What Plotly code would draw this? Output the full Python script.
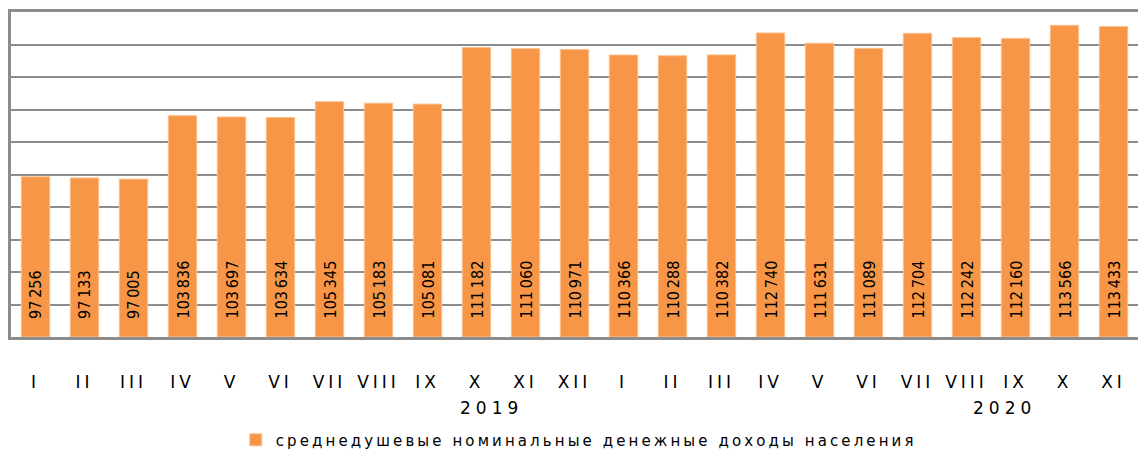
import plotly.graph_objects as go

months = ["I", "II", "III", "IV", "V", "VI", "VII", "VIII", "IX", "X", "XI", "XII",
          "I", "II", "III", "IV", "V", "VI", "VII", "VIII", "IX", "X", "XI"]
values = [97256, 97133, 97005, 103836, 103697, 103634, 105345, 105183, 105081,
          111182, 111060, 110971,
          110366, 110288, 110382, 112740, 111631, 111089, 112704, 112242, 112160,
          113566, 113433]
years = ["2019", "2020"]
year_pos = [9.3, 19.78]
series_name = "среднедушевые номинальные денежные доходы населения"

y_min, y_max, y_step = 80000, 115000, 3500

x = list(range(len(values)))
labels = [f"{v:,}".replace(",", "\u2009") for v in values]

fig = go.Figure()
fig.add_trace(go.Bar(
    x=x,
    y=[v - y_min for v in values],
    base=y_min,
    width=0.58,
    name=series_name,
    marker=dict(color="#F79646", line=dict(color="#FAC090", width=1)),
    hovertext=labels,
    showlegend=True,
))

bar_font = dict(family="Liberation Sans Narrow, DejaVu Sans Condensed, Arial Narrow, sans-serif",
                size=16, color="#000000")
for xi, lab in zip(x, labels):
    fig.add_annotation(x=xi, y=y_min, xref="x", yref="y", text=lab, textangle=-90,
                       showarrow=False, yanchor="bottom", xanchor="center",
                       yshift=16, font=bar_font)

for yr, xp in zip(years, year_pos):
    fig.add_annotation(x=xp, y=-0.218, xref="x", yref="paper", text=yr,
                       showarrow=False, yanchor="middle", xanchor="center",
                       font=dict(family="DejaVu Sans", size=17, color="#000000"))

fig.update_layout(
    width=1139, height=450,
    margin=dict(l=11, r=1, t=12, b=113),
    plot_bgcolor="white", paper_bgcolor="white",
    legend=dict(orientation="h", xref="container", yref="container",
                x=0.207, xanchor="left", y=0.022, yanchor="middle",
                font=dict(family="DejaVu Sans", size=15, color="#000000"),
                itemwidth=30, entrywidth=720, entrywidthmode="pixels",
                bgcolor="rgba(0,0,0,0)"),
    xaxis=dict(
        range=[-0.5, len(values) - 0.5], automargin=False,
        tickmode="array", tickvals=x, ticktext=months,
        tickfont=dict(family="DejaVu Sans", size=17, color="#000000"),
        showgrid=False, showline=True, mirror=True, linecolor="#8C8C8C", linewidth=3,
        ticks="", ticklabelstandoff=28, zeroline=False,
    ),
    yaxis=dict(
        range=[y_min, y_max], tick0=y_min, dtick=y_step, automargin=False,
        showticklabels=False, showgrid=True, gridcolor="#8C8C8C", gridwidth=2,
        showline=True, linecolor="#8C8C8C", linewidth=3, zeroline=False, ticks="",
    ),
)

post = """
document.body.style.margin = '0';
document.body.style.padding = '0';
var gd = document.getElementById('{plot_id}');
function spacing() {
  gd.querySelectorAll('.xtick text').forEach(function(t){ t.setAttribute('letter-spacing', '4px'); });
  gd.querySelectorAll('.legendtext').forEach(function(t){ t.setAttribute('letter-spacing', '3.1px'); });
  gd.querySelectorAll('.annotation-text').forEach(function(t){
    if (/^20\\d\\d$/.test(t.textContent)) { t.setAttribute('letter-spacing', '5px'); }
  });
}
spacing();
gd.on && gd.on('plotly_afterplot', spacing);
"""

fig.write_html("out.html", post_script=post, config={"displayModeBar": False})
